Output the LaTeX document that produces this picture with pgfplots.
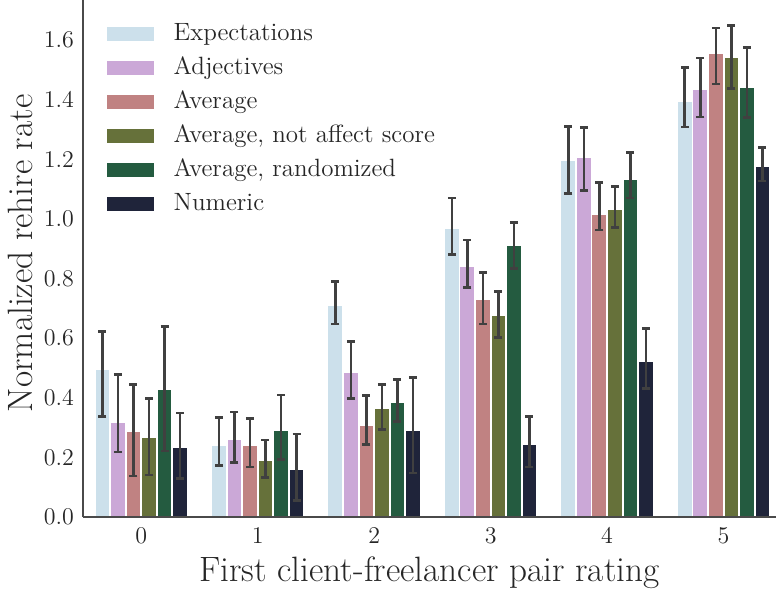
\documentclass[border=0pt]{standalone}
\usepackage{pgfplots}
\pgfplotsset{compat=1.18}
\usepackage{pgfplotstable}

\definecolor{cExp}{HTML}{CCE0EB}
\definecolor{cAdj}{HTML}{CBA8D7}
\definecolor{cAvg}{HTML}{C08282}
\definecolor{cNot}{HTML}{66713A}
\definecolor{cRnd}{HTML}{245B40}
\definecolor{cNum}{HTML}{1F243A}
\definecolor{errC}{HTML}{404040}
\definecolor{spineC}{HTML}{4A4A4A}

% columns: rating, mean, upper error, lower error
\pgfplotstableread{
x y ep em
0 0.495 0.128 0.157
1 0.240 0.093 0.068
2 0.710 0.080 0.062
3 0.969 0.101 0.089
4 1.197 0.114 0.111
5 1.397 0.111 0.088
}\tabExp
\pgfplotstableread{
x y ep em
0 0.319 0.160 0.101
1 0.263 0.090 0.080
2 0.486 0.102 0.089
3 0.843 0.086 0.073
4 1.207 0.100 0.111
5 1.437 0.104 0.095
}\tabAdj
\pgfplotstableread{
x y ep em
0 0.287 0.157 0.150
1 0.240 0.090 0.072
2 0.307 0.101 0.064
3 0.730 0.090 0.082
4 1.018 0.105 0.055
5 1.557 0.084 0.104
}\tabAvg
\pgfplotstableread{
x y ep em
0 0.269 0.129 0.128
1 0.190 0.069 0.057
2 0.366 0.079 0.073
3 0.677 0.080 0.075
4 1.033 0.076 0.062
5 1.544 0.105 0.107
}\tabNot
\pgfplotstableread{
x y ep em
0 0.430 0.210 0.208
1 0.291 0.119 0.099
2 0.386 0.075 0.065
3 0.913 0.075 0.080
4 1.133 0.090 0.062
5 1.444 0.131 0.103
}\tabRnd
\pgfplotstableread{
x y ep em
0 0.235 0.114 0.105
1 0.160 0.118 0.105
2 0.293 0.176 0.145
3 0.245 0.092 0.077
4 0.524 0.108 0.092
5 1.179 0.062 0.052
}\tabNum

\begin{document}
\begin{tikzpicture}
\begin{axis}[
  scale only axis, width=346.5pt, height=258.5pt,
  xmin=-0.5, xmax=5.45, ymin=0, ymax=1.735,
  axis x line*=bottom, axis y line*=left,
  axis line style={draw=spineC, line width=1pt, -},
  axis on top,
  major tick length=0pt,
  xtick={0,1,2,3,4,5},
  ytick={0,0.2,0.4,0.6,0.8,1.0,1.2,1.4,1.6},
  yticklabel style={/pgf/number format/fixed, /pgf/number format/zerofill,
    /pgf/number format/precision=1, xshift=-1pt},
  xticklabel style={yshift=-2pt},
  ticklabel style={font=\fontsize{12.5}{15}\selectfont, color=black!85},
  xlabel={First client-freelancer pair rating},
  ylabel={Normalized rehire rate},
  label style={font=\fontsize{17.6}{21}\selectfont, color=black!85},
  xlabel style={at={(axis description cs:0.5,-0.1238)}, anchor=base},
  ylabel style={at={(axis description cs:-0.0722,0.51)}, anchor=base},
  ybar, bar width=0.1333,
  every axis plot/.append style={draw=white, line width=0.9pt},
  error bars/y dir=both, error bars/y explicit,
  error bars/error bar style={draw=errC, line width=1.3pt},
  error bars/error mark options={draw=errC, line width=1.3pt, mark size=2pt, rotate=90},
  legend image code/.code={\fill[#1, draw=none] (0pt,-3.5pt) rectangle (23.5pt,3.5pt);},
  legend style={draw=none, fill=none, at={(axis description cs:0.025,0.964)}, anchor=north west,
    font=\fontsize{12.5}{15}\selectfont, row sep=6pt,
    nodes={inner sep=0pt, text height=8.5pt, text depth=2.5pt, text=black!85},
    column sep=0pt},
  legend cell align=left,
  clip=false,
]
\coordinate (bl) at (rel axis cs:0,0);
\coordinate (tr) at (rel axis cs:1,1);
\addplot[fill=cExp, bar shift=-0.3333] table[x=x, y=y, y error plus=ep, y error minus=em]{\tabExp};
\addplot[fill=cAdj, bar shift=-0.2] table[x=x, y=y, y error plus=ep, y error minus=em]{\tabAdj};
\addplot[fill=cAvg, bar shift=-0.0667] table[x=x, y=y, y error plus=ep, y error minus=em]{\tabAvg};
\addplot[fill=cNot, bar shift=0.0667] table[x=x, y=y, y error plus=ep, y error minus=em]{\tabNot};
\addplot[fill=cRnd, bar shift=0.2] table[x=x, y=y, y error plus=ep, y error minus=em]{\tabRnd};
\addplot[fill=cNum, bar shift=0.3333] table[x=x, y=y, y error plus=ep, y error minus=em]{\tabNum};
\legend{\hspace{10pt}Expectations, \hspace{10pt}Adjectives, \hspace{10pt}Average,
  \hspace{10pt}{Average, not affect score}, \hspace{10pt}{Average, randomized}, \hspace{10pt}Numeric}
\end{axis}
\pgfresetboundingbox
\path (bl) ++(-41.5pt,-36.5pt) rectangle (tr);
\end{tikzpicture}
\end{document}
